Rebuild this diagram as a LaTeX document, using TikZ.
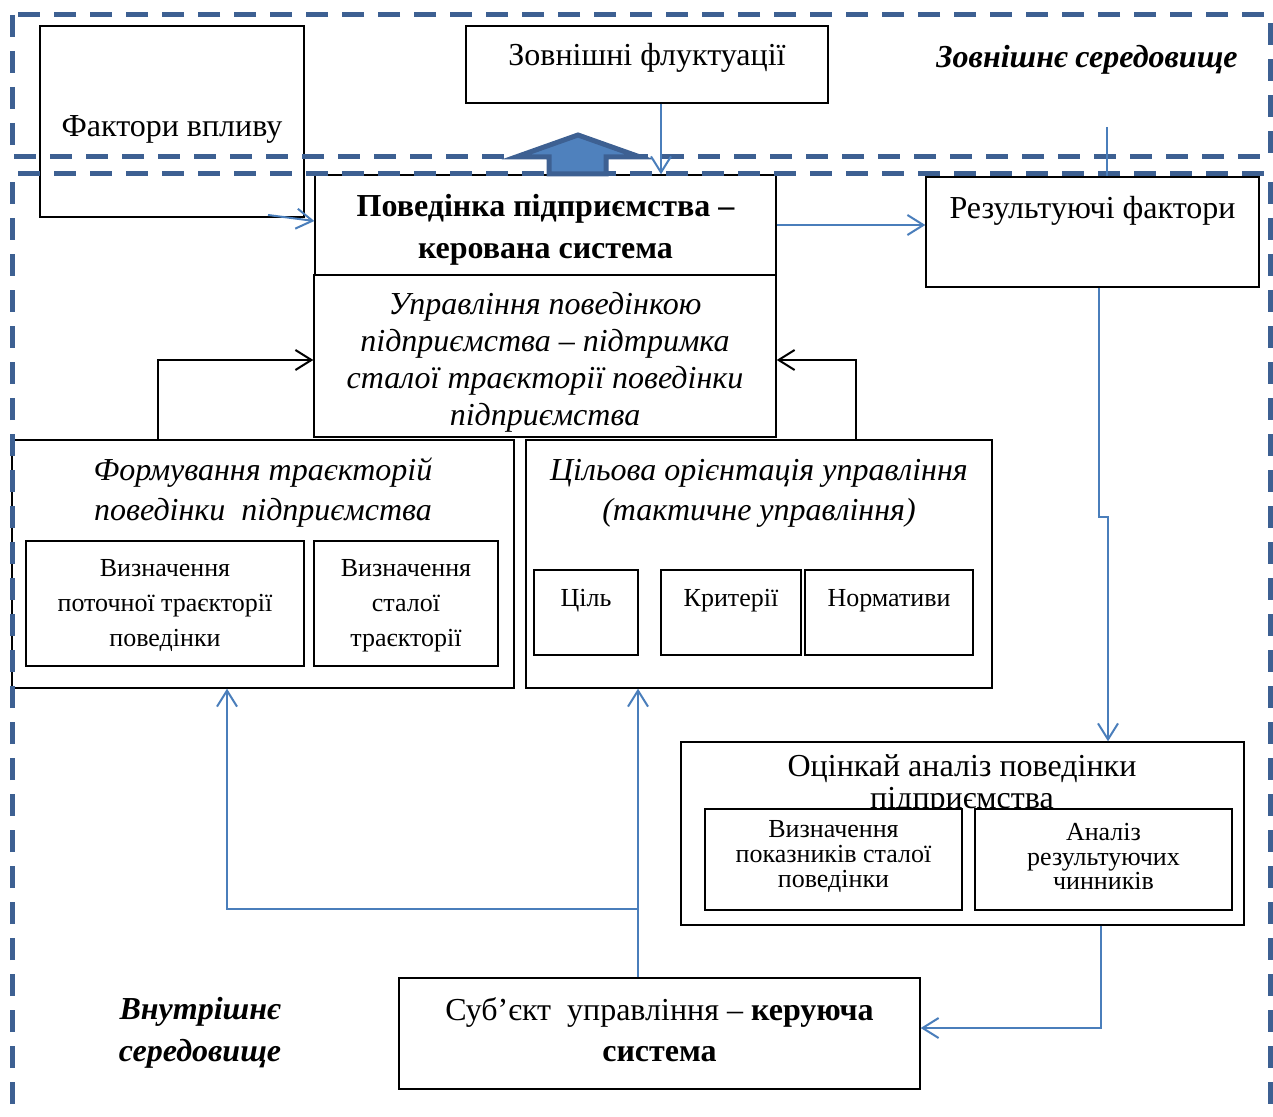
\documentclass[tikz,border=0pt]{standalone}
\usepackage{fontspec}
\setmainfont{Liberation Serif}
\usetikzlibrary{arrows.meta}

\definecolor{dashblue}{RGB}{61,96,146}
\definecolor{lineblue}{RGB}{74,126,187}
\definecolor{fillblue}{RGB}{79,129,189}

\begin{document}
\begin{tikzpicture}[x=0.5pt, y=-0.5pt,
    box/.style={draw, line width=0.7pt, inner sep=0pt, align=center},
    big/.style={font=\fontsize{16}{21}\selectfont, align=center},
    small/.style={font=\fontsize{13}{17.5}\selectfont, align=center},
    conn/.style={draw=lineblue, line width=1pt, -{Straight Barb[length=8pt,width=10pt]}},
    blk/.style={draw=black, line width=1pt, -{Straight Barb[length=8pt,width=10pt]}},
    envline/.style={draw=dashblue, line width=2.5pt, dash pattern=on 11pt off 7pt}]

    \useasboundingbox (0,0) rectangle (1273,1117);

    \node[box, minimum width=132pt, minimum height=95.5pt] (fakt) at (172,121.5) {};
    \node[big] (tfakt) at (172,129) {Фактори впливу};

    \node[box, minimum width=181pt, minimum height=38.5pt] (zovn) at (647,64.5) {};
    \node[big] (tzovn) at (647,58) {Зовнішні флуктуації};

    \node[big, font=\fontsize{16}{21}\selectfont\bfseries\itshape] (tenv) at (1087,60) {Зовнішнє середовище};

    \node[box, minimum width=230.5pt, minimum height=50pt] (poved) at (545.5,225) {};
    \node[big, font=\fontsize{16}{21}\selectfont\bfseries] (tpoved) at (545.5,230)
        {Поведінка підприємства –\\керована система};

    \node[box, minimum width=231pt, minimum height=81pt] (upr) at (545,356) {};
    \node[big, font=\fontsize{16}{18.5}\selectfont\itshape] (tupr) at (545,362)
        {Управління поведінкою\\підприємства – підтримка\\сталої траєкторії поведінки\\підприємства};

    \node[box, minimum width=166.5pt, minimum height=55pt] (rez) at (1092.5,232) {};
    \node[big] (trez) at (1092.5,211) {Результуючі фактори};

    \node[box, fill=white, minimum width=251pt, minimum height=124pt] (form) at (263,564) {};
    \node[big, font=\fontsize{16}{20}\selectfont\itshape] (tform) at (263,493)
        {Формування траєкторій\\поведінки\ \ підприємства};
    \node[box, minimum width=139pt, minimum height=62.5pt] (vpot) at (165,603.5) {};
    \node[small] (tvpot) at (165,605.5) {Визначення\\поточної траєкторії\\поведінки};
    \node[box, minimum width=92pt, minimum height=62.5pt] (vstal) at (406,603.5) {};
    \node[small] (tvstal) at (406,605.5) {Визначення\\сталої\\траєкторії};

    \node[box, fill=white, minimum width=233pt, minimum height=124pt] (cil) at (759,564) {};
    \node[big, font=\fontsize{16}{20}\selectfont\itshape] (tcil) at (759,493)
        {Цільова орієнтація управління\\(тактичне управління)};
    \node[box, minimum width=52pt, minimum height=42.5pt] (tsil) at (586,612.5) {};
    \node[small] (ttsil) at (586,601) {Ціль};
    \node[box, minimum width=70pt, minimum height=42.5pt] (krit) at (731,612.5) {};
    \node[small] (tkrit) at (731,601) {Критерії};
    \node[box, minimum width=84pt, minimum height=42.5pt] (norm) at (889,612.5) {};
    \node[small] (tnorm) at (889,601) {Нормативи};

    \node[box, minimum width=281.5pt, minimum height=91.5pt] (otsin) at (962.5,833.5) {};
    \node[big, font=\fontsize{16}{16}\selectfont] (totsin) at (962,785) {Оцінкай аналіз поведінки\\підприємства};
    \node[box, fill=white, minimum width=128.5pt, minimum height=50.5pt] (vpok) at (833.5,859.5) {};
    \node[small, font=\fontsize{13}{12.3}\selectfont] (tvpok) at (833.5,856.5) {Визначення\\показників сталої\\поведінки};
    \node[box, fill=white, minimum width=128.5pt, minimum height=50.5pt] (anal) at (1103.5,859.5) {};
    \node[small, font=\fontsize{13}{12.3}\selectfont] (tanal) at (1103.5,856.5) {Аналіз\\результуючих\\чинників};

    \node[box, minimum width=260.5pt, minimum height=55.5pt] (sub) at (659.5,1033.5) {};
    \node[big, font=\fontsize{16}{20.5}\selectfont] (tsub) at (659.5,1030)
        {Суб’єкт\ \ управління – \textbf{керуюча}\\\textbf{система}};

    \node[big, font=\fontsize{16}{21}\selectfont\bfseries\itshape] (tvnutr) at (200,1033) {Внутрішнє\\середовище};

    \draw[envline] (12,15) rectangle (1270,157);
    \draw[envline] (12,1140) -- (12,174) -- (1270,174) -- (1270,1140);

    \filldraw[fill=fillblue, draw=dashblue, line width=2.5pt]
        (578,135) -- (640,157) -- (606,157) -- (606,174) -- (549,174) -- (549,157) -- (516,157) -- cycle;

    \coordinate (fa) at (268,215);
    \coordinate (fb) at (315,221);
    \draw[conn] (fa) -- (poved.west |- fb);

    \coordinate (zv) at (661,0);
    \draw[conn] (zv |- zovn.south) -- (zv |- poved.north);

    \coordinate (rt) at (1107,127);
    \draw[draw=lineblue, line width=1pt] (rt) -- (rt |- rez.north);

    \draw[conn] (poved.east) -- (rez.west |- poved.east);

    \coordinate (j1) at (1099,517);
    \coordinate (j2) at (1108,517);
    \draw[conn] (j1 |- rez.south) -- (j1) -- (j2) -- (j2 |- otsin.north);

    \coordinate (fl) at (158,360);
    \draw[blk] (fl |- form.north) -- (fl) -- (fl -| upr.west);
    \coordinate (fr) at (856,360);
    \draw[blk] (fr |- cil.north) -- (fr) -- (fr -| upr.east);

    \coordinate (br) at (638,909);
    \coordinate (bl) at (227,909);
    \draw[conn] (br |- sub.north) -- (br |- cil.south);
    \draw[conn] (br) -- (bl) -- (bl |- form.south);

    \coordinate (k) at (1101,1028);
    \draw[conn] (k |- otsin.south) -- (k) -- (k -| sub.east);
\end{tikzpicture}
\end{document}
